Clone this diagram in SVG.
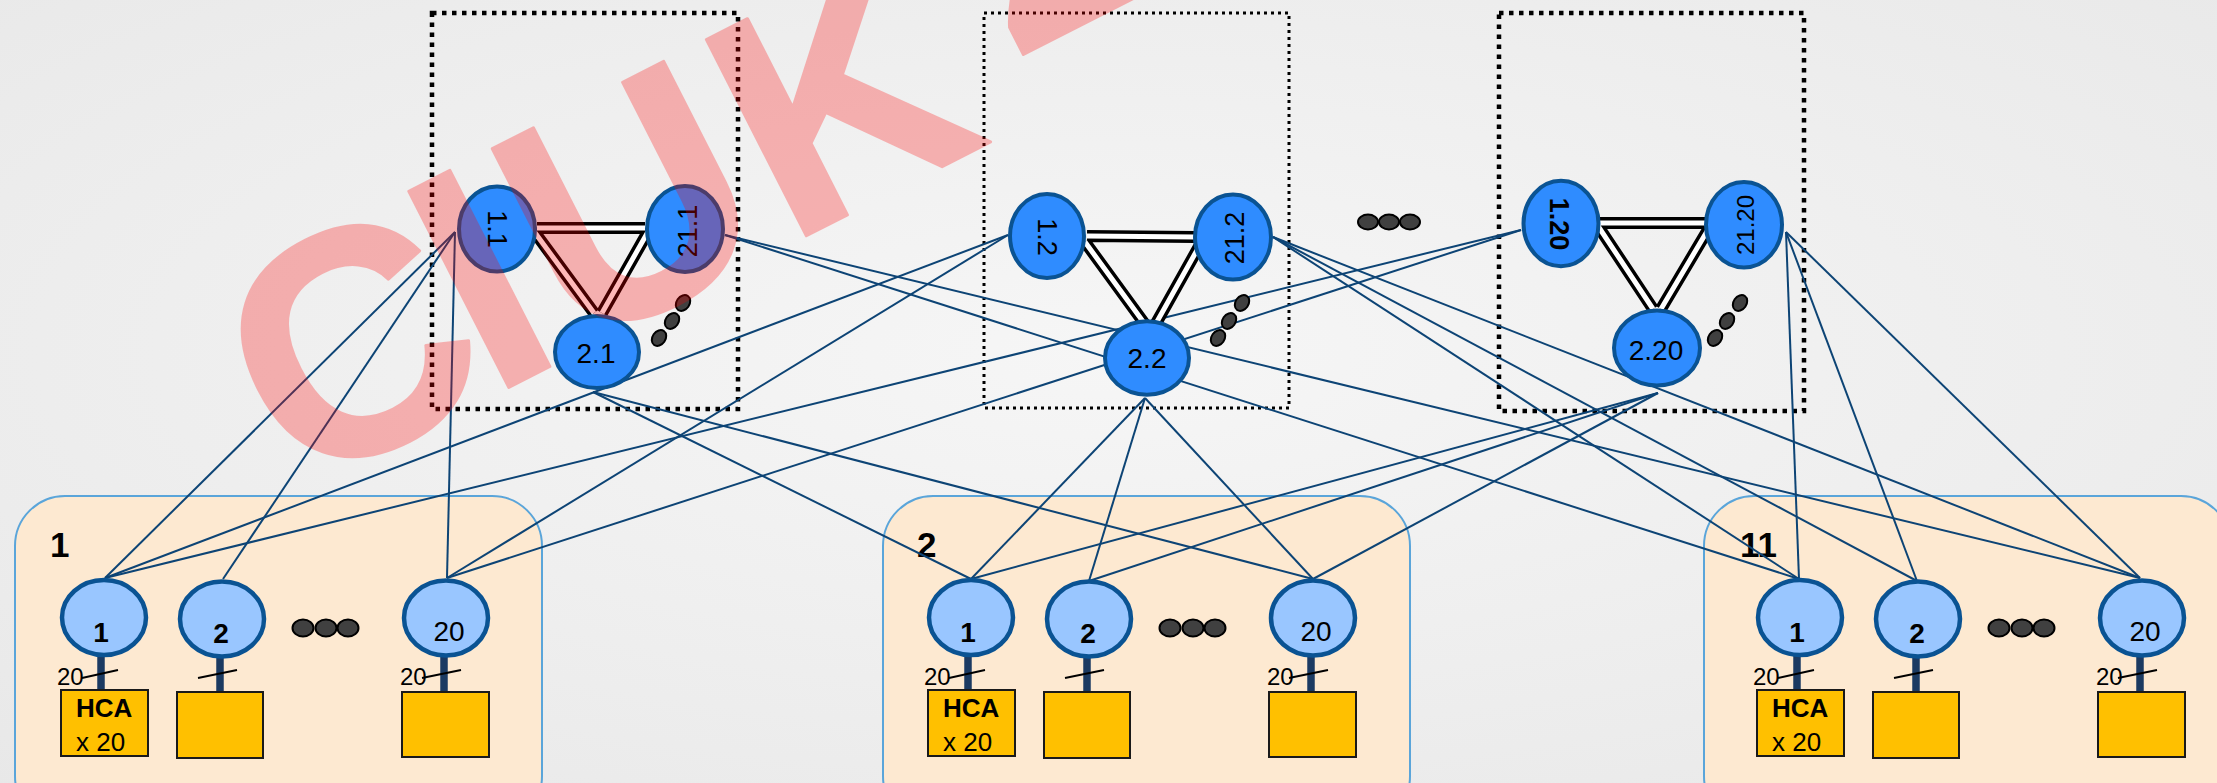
<svg xmlns="http://www.w3.org/2000/svg" width="2217" height="783" viewBox="0 0 2217 783">
<defs>
  <radialGradient id="bg" cx="50%" cy="45%" r="75%">
    <stop offset="0" stop-color="#F6F6F6"/>
    <stop offset="1" stop-color="#E8E8E8"/>
  </radialGradient>
  <style>
    text { font-family: "Liberation Sans", Arial, sans-serif; fill: #000; }
    .spine { fill: #2F8CFF; stroke: #0A5393; stroke-width: 4; }
    .leaf { fill: #99C6FF; stroke: #0A5393; stroke-width: 4.5; }
    .link { stroke: #0D4475; stroke-width: 2; fill: none; }
    .trunk-o { stroke: #000; stroke-width: 12; fill: none; }
    .trunk-i { stroke: #FFF; stroke-width: 5; fill: none; }
    .frame { fill: none; stroke: #000; stroke-width: 4.5; stroke-dasharray: 4.5 5.5; }
    .frame-thin { fill: none; stroke: #000; stroke-width: 3; stroke-dasharray: 3 4; }
    .pod { fill: #FDE9D1; stroke: #5AA5DA; stroke-width: 2; }
    .hca { fill: #FFC000; stroke: #1A1A1A; stroke-width: 2; }
    .stem { stroke: #1B3A62; stroke-width: 7.5; }
    .tick { stroke: #000; stroke-width: 2; }
    .dot { fill: #404040; stroke: #000; stroke-width: 2; }
    .lbl { font-size: 28px; text-anchor: middle; }
    .rlbl { font-size: 27px; text-anchor: middle; }
    .num { font-size: 28px; text-anchor: middle; }
    .b { font-weight: bold; }
    .cnt { font-size: 24px; }
    .hca-t { font-size: 26px; }
    .pod-lbl { font-size: 35px; font-weight: bold; }
    .mark { font-size: 320px; font-weight: bold; fill: #FF0000; stroke: #FF0000; stroke-width: 3; stroke-linejoin: round; }
  </style>
</defs>

<rect width="2217" height="783" fill="url(#bg)"/>

<!-- dotted frames round the spine groups -->
<g id="frames">
  <rect class="frame" x="432" y="13" width="306" height="396"/>
  <rect class="frame-thin" x="984" y="13" width="305" height="395"/>
  <rect class="frame" x="1499" y="13" width="305" height="398"/>
</g>

<!-- pods -->
<g id="pod-1"><rect class="pod" x="15" y="496" width="527" height="330" rx="50"/><text class="pod-lbl" x="50" y="557">1</text></g>
<g id="pod-2"><rect class="pod" x="883" y="496" width="527" height="330" rx="50"/><text class="pod-lbl" x="917" y="557">2</text></g>
<g id="pod-11"><rect class="pod" x="1704" y="496" width="527" height="330" rx="50"/><text class="pod-lbl" x="1740" y="557">11</text></g>

<!-- uplinks -->
<g id="connectors">
  <line class="link" x1="455" y1="232" x2="105" y2="578"/>
  <line class="link" x1="455" y1="232" x2="223" y2="579"/>
  <line class="link" x1="455" y1="232" x2="447" y2="578"/>
  <line class="link" x1="1008" y1="235" x2="105" y2="578"/>
  <line class="link" x1="1008" y1="235" x2="447" y2="578"/>
  <line class="link" x1="1521" y1="230" x2="105" y2="578"/>
  <line class="link" x1="1521" y1="230" x2="447" y2="578"/>

  <line class="link" x1="593" y1="392" x2="971" y2="579"/>
  <line class="link" x1="593" y1="392" x2="1313" y2="579"/>
  <line class="link" x1="1145" y1="398" x2="971" y2="579"/>
  <line class="link" x1="1145" y1="398" x2="1089" y2="581"/>
  <line class="link" x1="1145" y1="398" x2="1313" y2="579"/>
  <line class="link" x1="1658" y1="393" x2="971" y2="579"/>
  <line class="link" x1="1658" y1="393" x2="1089" y2="581"/>
  <line class="link" x1="1658" y1="393" x2="1313" y2="579"/>

  <line class="link" x1="725" y1="235" x2="1799" y2="579"/>
  <line class="link" x1="725" y1="235" x2="2140" y2="578"/>
  <line class="link" x1="1273" y1="237" x2="1799" y2="579"/>
  <line class="link" x1="1273" y1="237" x2="1917" y2="581"/>
  <line class="link" x1="1273" y1="237" x2="2140" y2="578"/>
  <line class="link" x1="1786" y1="232" x2="1799" y2="579"/>
  <line class="link" x1="1786" y1="232" x2="1917" y2="581"/>
  <line class="link" x1="1786" y1="232" x2="2140" y2="578"/>
</g>

<!-- double trunks inside each spine group -->
<g id="trunks">
  <path class="trunk-o" d="M537 228H645M533 230L594 313M649 230L602 313"/>
  <path class="trunk-i" d="M537 228H645M533 230L594 313M649 230L602 313"/>
  <path class="trunk-o" d="M1087 236L1195 237M1085 242L1147 327M1201 243L1154 327"/>
  <path class="trunk-i" d="M1087 236L1195 237M1085 242L1147 327M1201 243L1154 327"/>
  <path class="trunk-o" d="M1600 223H1705M1598 226L1653 309M1709 228L1661 309"/>
  <path class="trunk-i" d="M1600 223H1705M1598 226L1653 309M1709 228L1661 309"/>
</g>

<!-- spine switches -->
<g id="spine-1-1"><ellipse class="spine" cx="497" cy="229" rx="38" ry="42.5"/><text class="rlbl" transform="translate(497 229) rotate(90)" y="9.5">1.1</text></g>
<g id="spine-21-1"><ellipse class="spine" cx="685" cy="229" rx="38" ry="43"/><text class="rlbl" transform="translate(687 231) rotate(-90)" y="9.5">21.1</text></g>
<g id="spine-2-1"><ellipse class="spine" cx="597" cy="352" rx="42" ry="36"/><text class="lbl" x="596" y="363">2.1</text></g>

<g id="spine-1-2"><ellipse class="spine" cx="1047" cy="236" rx="37" ry="42"/><text class="rlbl" transform="translate(1047 237) rotate(90)" y="9.5">1.2</text></g>
<g id="spine-21-2"><ellipse class="spine" cx="1233" cy="237" rx="38" ry="42.5"/><text class="rlbl" transform="translate(1234 238) rotate(-90)" y="9.5">21.2</text></g>
<g id="spine-2-2"><ellipse class="spine" cx="1147" cy="358" rx="42" ry="36.7"/><text class="lbl" x="1147" y="368">2.2</text></g>

<g id="spine-1-20"><ellipse class="spine" cx="1561" cy="223.5" rx="37.5" ry="42.7"/><text class="rlbl b" transform="translate(1559 224) rotate(90)" y="9.5">1.20</text></g>
<g id="spine-21-20"><ellipse class="spine" cx="1744" cy="224.7" rx="38" ry="42.7"/><text class="rlbl" style="font-size:24px" transform="translate(1745 225) rotate(-90)" y="8.5">21.20</text></g>
<g id="spine-2-20"><ellipse class="spine" cx="1657" cy="348" rx="43" ry="37.5"/><text class="lbl" x="1656" y="360">2.20</text></g>

<!-- ellipsis marks between spine planes -->
<g id="more-spines">
  <ellipse class="dot" cx="659" cy="338" rx="8.5" ry="6.5" transform="rotate(-55 659 338)"/>
  <ellipse class="dot" cx="672" cy="321" rx="8.5" ry="6.5" transform="rotate(-55 672 321)"/>
  <ellipse class="dot" cx="683" cy="303" rx="8.5" ry="6.5" transform="rotate(-55 683 303)"/>
  <ellipse class="dot" cx="1218" cy="338" rx="8.5" ry="6.5" transform="rotate(-55 1218 338)"/>
  <ellipse class="dot" cx="1229" cy="321" rx="8.5" ry="6.5" transform="rotate(-55 1229 321)"/>
  <ellipse class="dot" cx="1242" cy="303" rx="8.5" ry="6.5" transform="rotate(-55 1242 303)"/>
  <ellipse class="dot" cx="1715" cy="338" rx="8.5" ry="6.5" transform="rotate(-55 1715 338)"/>
  <ellipse class="dot" cx="1727" cy="321" rx="8.5" ry="6.5" transform="rotate(-55 1727 321)"/>
  <ellipse class="dot" cx="1740" cy="303" rx="8.5" ry="6.5" transform="rotate(-55 1740 303)"/>
  <ellipse class="dot" cx="1368" cy="222" rx="10" ry="7.5"/>
  <ellipse class="dot" cx="1389" cy="222" rx="10" ry="7.5"/>
  <ellipse class="dot" cx="1410" cy="222" rx="10" ry="7.5"/>
</g>

<!-- leaf switches, pod 1 -->
<g id="leaf-1-1">
  <line class="stem" x1="101" y1="655" x2="101" y2="690"/>
  <ellipse class="leaf" cx="104" cy="617.5" rx="42" ry="37.5"/><text class="num b" x="101" y="642">1</text>
  <line class="tick" x1="82" y1="678" x2="118" y2="670"/><text class="cnt" x="57" y="685">20</text>
  <rect class="hca" x="61" y="690" width="87" height="66"/>
  <text class="hca-t b" x="76" y="717">HCA</text><text class="hca-t" x="76" y="751">x 20</text>
</g>
<g id="leaf-1-2">
  <line class="stem" x1="220" y1="657" x2="220" y2="692"/>
  <ellipse class="leaf" cx="222" cy="619" rx="42" ry="37.5"/><text class="num b" x="221" y="643">2</text>
  <line class="tick" x1="198" y1="678" x2="237" y2="670"/>
  <rect class="hca" x="177" y="692" width="86" height="66"/>
</g>
<g id="more-leaves-1">
  <ellipse class="dot" cx="303" cy="628" rx="10.5" ry="8.5"/><ellipse class="dot" cx="326" cy="628" rx="10.5" ry="8.5"/><ellipse class="dot" cx="348" cy="628" rx="10.5" ry="8.5"/>
</g>
<g id="leaf-1-20">
  <line class="stem" x1="444" y1="656" x2="444" y2="692"/>
  <ellipse class="leaf" cx="446" cy="618" rx="42" ry="37.5"/><text class="num" x="449" y="641">20</text>
  <line class="tick" x1="422" y1="678" x2="461" y2="670"/><text class="cnt" x="400" y="685">20</text>
  <rect class="hca" x="402" y="692" width="87" height="65"/>
</g>

<!-- leaf switches, pod 2 -->
<g transform="translate(867 0)">
<g id="leaf-2-1">
  <line class="stem" x1="101" y1="655" x2="101" y2="690"/>
  <ellipse class="leaf" cx="104" cy="617.5" rx="42" ry="37.5"/><text class="num b" x="101" y="642">1</text>
  <line class="tick" x1="82" y1="678" x2="118" y2="670"/><text class="cnt" x="57" y="685">20</text>
  <rect class="hca" x="61" y="690" width="87" height="66"/>
  <text class="hca-t b" x="76" y="717">HCA</text><text class="hca-t" x="76" y="751">x 20</text>
</g>
<g id="leaf-2-2">
  <line class="stem" x1="220" y1="657" x2="220" y2="692"/>
  <ellipse class="leaf" cx="222" cy="619" rx="42" ry="37.5"/><text class="num b" x="221" y="643">2</text>
  <line class="tick" x1="198" y1="678" x2="237" y2="670"/>
  <rect class="hca" x="177" y="692" width="86" height="66"/>
</g>
<g id="more-leaves-2">
  <ellipse class="dot" cx="303" cy="628" rx="10.5" ry="8.5"/><ellipse class="dot" cx="326" cy="628" rx="10.5" ry="8.5"/><ellipse class="dot" cx="348" cy="628" rx="10.5" ry="8.5"/>
</g>
<g id="leaf-2-20">
  <line class="stem" x1="444" y1="656" x2="444" y2="692"/>
  <ellipse class="leaf" cx="446" cy="618" rx="42" ry="37.5"/><text class="num" x="449" y="641">20</text>
  <line class="tick" x1="422" y1="678" x2="461" y2="670"/><text class="cnt" x="400" y="685">20</text>
  <rect class="hca" x="402" y="692" width="87" height="65"/>
</g>
</g>

<!-- leaf switches, pod 11 -->
<g transform="translate(1696 0)">
<g id="leaf-11-1">
  <line class="stem" x1="101" y1="655" x2="101" y2="690"/>
  <ellipse class="leaf" cx="104" cy="617.5" rx="42" ry="37.5"/><text class="num b" x="101" y="642">1</text>
  <line class="tick" x1="82" y1="678" x2="118" y2="670"/><text class="cnt" x="57" y="685">20</text>
  <rect class="hca" x="61" y="690" width="87" height="66"/>
  <text class="hca-t b" x="76" y="717">HCA</text><text class="hca-t" x="76" y="751">x 20</text>
</g>
<g id="leaf-11-2">
  <line class="stem" x1="220" y1="657" x2="220" y2="692"/>
  <ellipse class="leaf" cx="222" cy="619" rx="42" ry="37.5"/><text class="num b" x="221" y="643">2</text>
  <line class="tick" x1="198" y1="678" x2="237" y2="670"/>
  <rect class="hca" x="177" y="692" width="86" height="66"/>
</g>
<g id="more-leaves-11">
  <ellipse class="dot" cx="303" cy="628" rx="10.5" ry="8.5"/><ellipse class="dot" cx="326" cy="628" rx="10.5" ry="8.5"/><ellipse class="dot" cx="348" cy="628" rx="10.5" ry="8.5"/>
</g>
<g id="leaf-11-20">
  <line class="stem" x1="444" y1="656" x2="444" y2="692"/>
  <ellipse class="leaf" cx="446" cy="618" rx="42" ry="37.5"/><text class="num" x="449" y="641">20</text>
  <line class="tick" x1="422" y1="678" x2="461" y2="670"/><text class="cnt" x="400" y="685">20</text>
  <rect class="hca" x="402" y="692" width="87" height="65"/>
</g>
</g>

<!-- translucent watermark over everything -->
<g id="watermark" opacity="0.27">
  <text class="mark" transform="translate(278 505) rotate(-27)"><tspan dx="22">C</tspan><tspan dx="-15.5">I</tspan><tspan dx="7">U</tspan><tspan dx="7">K</tspan><tspan dx="-34" dy="-63"> 20</tspan></text>
</g>
</svg>
